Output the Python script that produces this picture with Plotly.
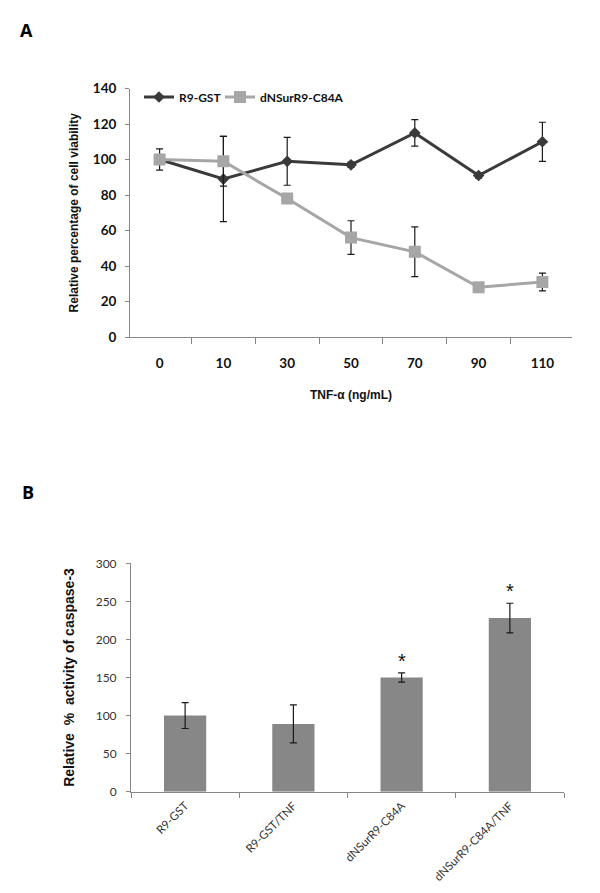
import plotly.graph_objects as go

# Panel A data
tnf_doses = ["0", "10", "30", "50", "70", "90", "110"]
r9_gst = [100, 89, 99, 97, 115, 91, 110]
r9_gst_err = [6, 24, 13.5, 1.5, 7.5, 1.5, 11]
dnsur = [100, 99, 78, 56, 48, 28, 31]
dnsur_err = [1.5, 14, 1.5, 9.5, 14, 1.5, 5]

# Panel B data
groups = ["R9-GST", "R9-GST/TNF", "dNSurR9-C84A", "dNSurR9-C84A/TNF"]
caspase = [100, 89, 150, 228]
caspase_err = [17, 25, 6, 19.5]
significant = [False, False, True, True]

# figure size (page has an 8px body margin)
W, H = 584, 877
M = 8


def px_x(v):
    return (v - M) / W


def px_y(v):
    return 1 - (v - M) / H


fig = go.Figure()

fig.add_trace(go.Scatter(
    x=tnf_doses, y=r9_gst, name="R9-GST", mode="lines+markers",
    line=dict(color="#3a3a3a", width=3),
    marker=dict(symbol="diamond", size=9, color="#3a3a3a"),
    error_y=dict(type="data", array=r9_gst_err, color="#1a1a1a", thickness=1.2, width=3.5),
    xaxis="x", yaxis="y", legend="legend"))
fig.add_trace(go.Scatter(
    x=tnf_doses, y=dnsur, name="dNSurR9-C84A", mode="lines+markers",
    line=dict(color="#a6a6a6", width=3),
    marker=dict(symbol="square", size=12, color="#a6a6a6"),
    error_y=dict(type="data", array=dnsur_err, color="#1a1a1a", thickness=1.2, width=3.5),
    xaxis="x", yaxis="y", legend="legend2"))

fig.add_trace(go.Bar(
    x=groups, y=caspase, marker=dict(color="#878787", line=dict(width=0)),
    error_y=dict(type="data", array=caspase_err, color="#1a1a1a", thickness=1.2, width=3.5),
    xaxis="x2", yaxis="y2", showlegend=False))

for g, v, e, s in zip(groups, caspase, caspase_err, significant):
    if s:
        fig.add_annotation(x=g, y=v + e, xref="x2", yref="y2", text="*",
                           showarrow=False, yanchor="bottom", yshift=-1,
                           font=dict(family="Liberation Sans", size=20, color="#111"))

legend_font = dict(family="Lato", size=12, color="#111", weight="bold")
axis_line = "#868686"
fig.update_layout(
    width=W, height=H,
    margin=dict(l=0, r=0, t=0, b=0, autoexpand=False),
    paper_bgcolor="white", plot_bgcolor="white",
    showlegend=True,
    legend=dict(orientation="h", x=px_x(139), y=px_y(97), xanchor="left", yanchor="middle",
                font=legend_font, itemwidth=30, bgcolor="rgba(0,0,0,0)"),
    legend2=dict(orientation="h", x=px_x(220), y=px_y(97), xanchor="left", yanchor="middle",
                 font=legend_font, itemwidth=30, bgcolor="rgba(0,0,0,0)"),
    xaxis=dict(domain=[px_x(130), px_x(572)], type="category", anchor="y", automargin=False,
               showline=True, linecolor=axis_line, linewidth=1,
               ticks="outside", tickson="boundaries", ticklen=6, tickcolor=axis_line,
               ticklabelstandoff=14,
               tickfont=dict(family="Lato", size=13.5, color="#111", weight="bold"),
               title=dict(text="<b>TNF-α (ng/mL)</b>", standoff=20,
                          font=dict(family="Liberation Sans", size=12, color="#111")),
               showgrid=False, zeroline=False),
    yaxis=dict(domain=[px_y(337), px_y(88.5)], range=[0, 140], dtick=20, anchor="x",
               automargin=False,
               showline=True, linecolor=axis_line, linewidth=1,
               ticks="outside", ticklen=4, tickcolor=axis_line,
               ticklabelstandoff=6,
               tickfont=dict(family="Lato", size=13.5, color="#111", weight="bold"),
               title=dict(text="<b>Relative percentage of cell viability</b>", standoff=11,
                          font=dict(family="Liberation Sans", size=12, color="#111")),
               showgrid=False, zeroline=False),
    xaxis2=dict(domain=[px_x(131), px_x(564)], type="category", anchor="y2", automargin=False,
                showline=True, linecolor=axis_line, linewidth=1,
                ticks="outside", tickson="boundaries", ticklen=5, tickcolor=axis_line,
                tickangle=-45, ticklabelstandoff=2,
                tickfont=dict(family="Lato", size=11.5, color="#333"),
                showgrid=False, zeroline=False),
    yaxis2=dict(domain=[px_y(791.7), px_y(563.3)], range=[0, 300], dtick=50, anchor="x2",
                automargin=False,
                showline=True, linecolor=axis_line, linewidth=1,
                ticks="outside", ticklen=4, tickcolor=axis_line,
                ticklabelstandoff=7,
                tickfont=dict(family="Lato", size=12, color="#333"),
                title=dict(text="<b>Relative  %  activity of caspase-3</b>", standoff=17,
                           font=dict(family="Liberation Sans", size=14, color="#111")),
                showgrid=False, zeroline=False),
    bargap=0.61,
    annotations=list(fig.layout.annotations) + [
        dict(text="<b>A</b>", x=px_x(26.5), y=px_y(29.5), xref="paper", yref="paper",
             showarrow=False, xanchor="center", yanchor="middle",
             font=dict(family="Open Sans", size=18, color="#000")),
        dict(text="<b>B</b>", x=px_x(27.5), y=px_y(491.5), xref="paper", yref="paper",
             showarrow=False, xanchor="center", yanchor="middle",
             font=dict(family="Open Sans", size=18, color="#000")),
    ],
)

fig.write_html("out.html")
